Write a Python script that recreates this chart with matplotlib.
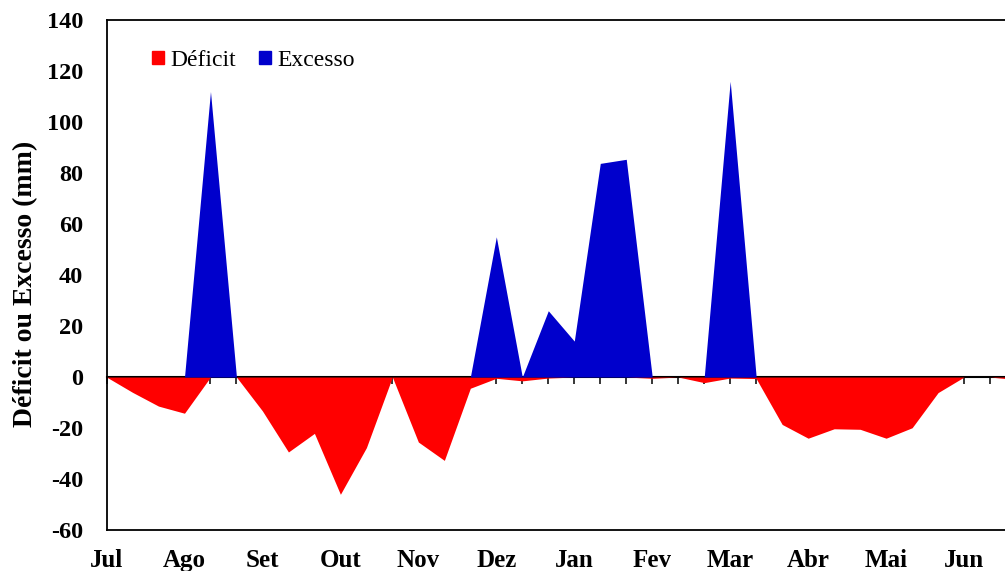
import matplotlib
matplotlib.use('Agg')
from matplotlib import pyplot as plt
from matplotlib.patches import Patch
import numpy as np

plt.rcParams['font.family'] = ['Liberation Serif', 'DejaVu Serif']
plt.rcParams['axes.unicode_minus'] = False

months = ['Jul', 'Ago', 'Set', 'Out', 'Nov', 'Dez', 'Jan', 'Fev', 'Mar', 'Abr', 'Mai', 'Jun']

# decendial values (3 per month), mm
deficit = [0, -6, -11.4, -14.2, 0, 0, -13.3, -29.4, -22.1, -46, -27.7, 0,
           -25.5, -32.7, -4.4, -0.5, -1.5, -0.4, 0, 0, 0, -0.5, 0, -2.2,
           -0.4, -0.6, -18.6, -24, -20.3, -20.5, -24, -19.9, -6.1, 0, 0, -1]
excess = [0, 0, 0, 0, 112, 0, 0, 0, 0, 0, 0, 0,
          0, 0, 0, 55, 0, 26, 14.1, 83.8, 85.4, 0, 0, 0,
          116, 0, 0, 0, 0, 0, 0, 0, 0, 0, 0, 0]

x = np.arange(len(deficit))

fig = plt.figure(figsize=(10.05, 5.71), dpi=100)
ax = fig.add_axes([0.106, 0.0718, 0.905, 0.893])

ax.fill_between(x, deficit, 0, color='#FF0000', linewidth=0)
ax.fill_between(x, 0, excess, color='#0000CC', linewidth=0)

ax.set_xlim(0, 35)
ax.set_ylim(-60, 140)
ax.set_yticks(range(-60, 141, 20))
ax.set_xticks(x[::3])
ax.set_xticklabels(months)
ax.tick_params(axis='y', length=0, pad=17, labelsize=17.5)
ax.tick_params(axis='x', length=0, pad=13.5, labelsize=18)
for lab in ax.get_xticklabels() + ax.get_yticklabels():
    lab.set_fontweight('bold')

for s in ax.spines.values():
    s.set_linewidth(1.3)

# zero line with the category tick marks
zero = ax.secondary_xaxis(0.3)
zero.set_xticks(x)
zero.tick_params(direction='out', length=5, width=1.1, labelbottom=False)
zero.spines['bottom'].set_linewidth(1.5)

ax.set_ylabel('Déficit ou Excesso (mm)', fontsize=20, fontweight='bold')
ax.yaxis.set_label_coords(-0.0755, 0.482)

handles = [Patch(color='#FF0000', label='Déficit'), Patch(color='#0000CC', label='Excesso')]
ax.legend(handles=handles, loc='upper left', bbox_to_anchor=(0.027, 0.983), ncol=2,
          frameon=False, fontsize=17, handlelength=0.5, handleheight=0.5,
          handletextpad=0.25, columnspacing=1.0)

plt.savefig('out.png', dpi=100)
